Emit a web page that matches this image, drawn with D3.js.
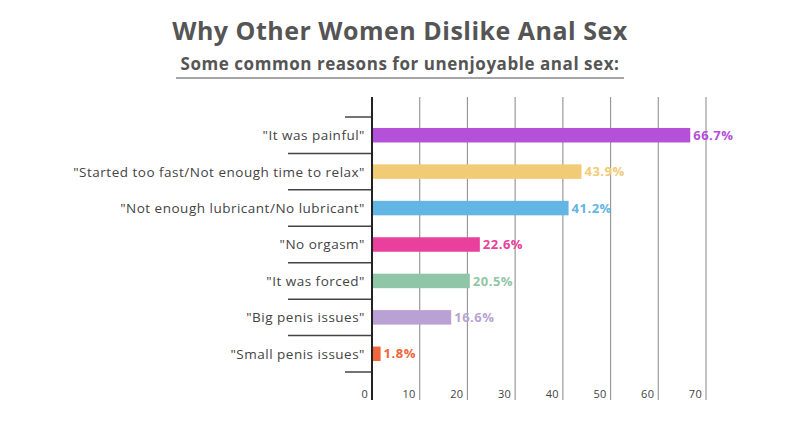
<!DOCTYPE html>
<html>
<head>
<meta charset="utf-8">
<script src="https://cdn.jsdelivr.net/npm/d3@7"></script>
<style>
  body { margin: 0; background: #fff; }
  svg { font-family: "Open Sans", sans-serif; }
</style>
</head>
<body>
<svg width="800" height="440"></svg>
<script>
const width = 800, height = 440;

const reasons = [
    '"It was painful"',
    '"Started too fast/Not enough time to relax"',
    '"Not enough lubricant/No lubricant"',
    '"No orgasm"',
    '"It was forced"',
    '"Big penis issues"',
    '"Small penis issues"'
];
const percents = [66.7, 43.9, 41.2, 22.6, 20.5, 16.6, 1.8];
const colors = ['#b550d8', '#f1cb76', '#63b5e3', '#e8409c', '#90c6a8', '#b9a2d3', '#f0663b'];
const ticks = [0, 10, 20, 30, 40, 50, 60, 70];

const data = reasons.map((r, i) => ({ reason: r, value: percents[i], color: colors[i] }));

const svg = d3.select("svg");

const x = d3.scaleLinear().domain([0, 70]).range([372, 706]);
const y = d3.scaleBand().domain(reasons).range([117, 372]).paddingInner(0.6).paddingOuter(0.3);

// Title
svg.append("text")
    .attr("x", 400).attr("y", 40)
    .attr("text-anchor", "middle")
    .attr("font-size", 25).attr("font-weight", 700)
    .attr("letter-spacing", 0.5)
    .attr("fill", "#555")
    .text("Why Other Women Dislike Anal Sex");

svg.append("text")
    .attr("x", 400).attr("y", 70)
    .attr("text-anchor", "middle")
    .attr("font-size", 17).attr("font-weight", 700)
    .attr("letter-spacing", 0.55)
    .attr("fill", "#555")
    .text("Some common reasons for unenjoyable anal sex:");

svg.append("line")
    .attr("x1", 176).attr("x2", 624)
    .attr("y1", 78).attr("y2", 78)
    .attr("stroke", "#888").attr("stroke-width", 1.5);

// Gridlines
svg.selectAll(".grid")
    .data(ticks.slice(1))
    .enter().append("line")
    .attr("class", "grid")
    .attr("x1", d => x(d)).attr("x2", d => x(d))
    .attr("y1", 97).attr("y2", 400)
    .attr("stroke", "#999").attr("stroke-width", 1.2);

// Tick labels
svg.selectAll(".tick-label")
    .data(ticks)
    .enter().append("text")
    .attr("class", "tick-label")
    .attr("x", d => x(d) - 4)
    .attr("y", 398)
    .attr("text-anchor", "end")
    .attr("font-size", 11)
    .attr("letter-spacing", 0.3)
    .attr("fill", "#444")
    .text(d => d);

// Category separators
const step = y.step();
const bounds = d3.range(reasons.length + 1).map(i => y.range()[0] + i * step);
svg.selectAll(".sep")
    .data(bounds)
    .enter().append("line")
    .attr("class", "sep")
    .attr("x1", (d, i) => (i === 0 || i === reasons.length) ? 345 : 288)
    .attr("x2", 372)
    .attr("y1", d => d).attr("y2", d => d)
    .attr("stroke", "#444").attr("stroke-width", 1.5);

// Bars
svg.selectAll(".bar")
    .data(data)
    .enter().append("rect")
    .attr("class", "bar")
    .attr("x", x(0))
    .attr("y", d => y(d.reason) + y.bandwidth() / 2 - 7.25)
    .attr("width", d => x(d.value) - x(0))
    .attr("height", 14.5)
    .attr("fill", d => d.color);

// Value labels
svg.selectAll(".value")
    .data(data)
    .enter().append("text")
    .attr("class", "value")
    .attr("x", d => x(d.value) + 3)
    .attr("y", d => y(d.reason) + y.bandwidth() / 2)
    .attr("dy", "0.36em")
    .attr("font-size", 13).attr("font-weight", 700)
    .attr("letter-spacing", 0.5)
    .attr("fill", d => d.color)
    .text(d => d.value + "%");

// Category labels
svg.selectAll(".cat")
    .data(data)
    .enter().append("text")
    .attr("class", "cat")
    .attr("x", 365)
    .attr("y", d => y(d.reason) + y.bandwidth() / 2)
    .attr("dy", "0.36em")
    .attr("text-anchor", "end")
    .attr("font-size", 13.5)
    .attr("letter-spacing", 0.5)
    .attr("fill", "#444")
    .text(d => d.reason);

// Axis line
svg.append("line")
    .attr("x1", x(0)).attr("x2", x(0))
    .attr("y1", 97).attr("y2", 400)
    .attr("stroke", "#222").attr("stroke-width", 2);
</script>
</body>
</html>
